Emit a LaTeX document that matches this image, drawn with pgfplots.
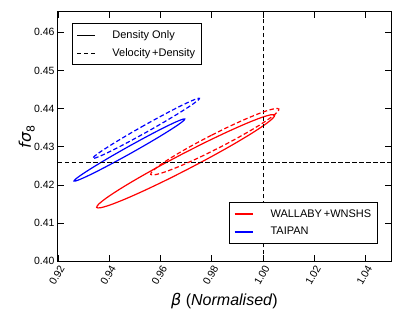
\documentclass[border=0pt]{standalone}
\usepackage{fontspec}
\setmainfont{Liberation Sans}
\newfontfamily\dejavu{DejaVu Sans}
\usepackage{pgfplots}
\pgfplotsset{compat=1.18}
\begin{document}
\begin{tikzpicture}
\pgfplotsset{
  mylegend/.style={
    legend cell align=left,
    legend style={draw=black, line width=0.8pt, fill=white,
      font=\fontsize{11}{13}\selectfont,
      inner xsep=4pt, inner ysep=5pt, row sep=4.2pt,
      nodes={inner sep=2pt},
      /tikz/every odd column/.append style={column sep=15pt}},
  },
}
\begin{axis}[
  scale only axis, width=333pt, height=249.3pt,
  xmin=0.92, xmax=1.05, ymin=0.40, ymax=0.4653,
  xtick={0.92,0.94,0.96,0.98,1.00,1.02,1.04},
  ytick={0.40,0.41,0.42,0.43,0.44,0.45,0.46},
  scaled ticks=false,
  tick align=inside, tick pos=both,
  major tick length=6pt, minor tick num=0,
  tick style={black, line width=0.6pt},
  axis line style={line width=1pt},
  /pgf/number format/fixed, /pgf/number format/fixed zerofill,
  /pgf/number format/precision=2, /pgf/number format/assume math mode=true,
  tick label style={font=\fontsize{10.5}{12}\selectfont},
  x tick label style={rotate=60, anchor=north east, inner sep=2pt},
  xlabel={{\dejavu\itshape β} (\textit{Normalised})},
  ylabel={{\dejavu\itshape f\kern0.3ptσ}{\dejavu\raisebox{-0.22em}{\fontsize{11}{11}\selectfont 8}}},
  label style={font=\fontsize{16}{18}\selectfont},
  xlabel style={at={(axis description cs:0.5,0)}, anchor=base, yshift=-44.4pt},
  ylabel style={at={(axis description cs:0,0.5)}, anchor=base, yshift=27pt},
  mylegend,
  legend image code/.code={\draw[#1, line width=2pt] (0pt,0pt) -- (18pt,0pt);},
  legend style={at={(axis description cs:0.960,0.0711)}, anchor=south east},
]
% red solid (density only)
\addplot[red, line width=1.2pt, smooth] coordinates {
(0.96841,0.42806) (0.95947,0.42487) (0.95123,0.42176) (0.94426,0.41896) (0.93904,0.41665) (0.93591,0.41499)
(0.93510,0.41410) (0.93666,0.41403) (0.94048,0.41479) (0.94630,0.41633) (0.95372,0.41854) (0.96225,0.42127)
(0.97129,0.42434) (0.98024,0.42754) (0.98847,0.43064) (0.99544,0.43344) (1.00067,0.43575) (1.00379,0.43741)
(1.00460,0.43830) (1.00304,0.43837) (0.99922,0.43761) (0.99340,0.43607) (0.98598,0.43386) (0.97745,0.43113)
(0.96841,0.42806)};
\addlegendentry{WALLABY\,+WNSHS}
% blue solid (density only)
\addplot[blue, line width=1.2pt, smooth] coordinates {
(0.94720,0.42994) (0.94163,0.42781) (0.93648,0.42577) (0.93211,0.42396) (0.92881,0.42251) (0.92681,0.42150)
(0.92625,0.42102) (0.92716,0.42109) (0.92948,0.42171) (0.93306,0.42283) (0.93764,0.42439) (0.94292,0.42627)
(0.94854,0.42834) (0.95411,0.43047) (0.95926,0.43251) (0.96363,0.43432) (0.96693,0.43577) (0.96893,0.43678)
(0.96949,0.43726) (0.96858,0.43719) (0.96626,0.43657) (0.96269,0.43545) (0.95810,0.43389) (0.95282,0.43201)
(0.94720,0.42994)};
\addlegendentry{TAIPAN}
% reference lines
\addplot[black, line width=0.8pt, dash pattern=on 4.5pt off 2.5pt, forget plot] coordinates {(0.92,0.4258) (1.05,0.4258)};
\addplot[black, line width=0.8pt, dash pattern=on 4.5pt off 2.5pt, forget plot] coordinates {(1.0,0.40) (1.0,0.4653)};
% red dashed (velocity + density)
\addplot[red, line width=1.2pt, dash pattern=on 4.5pt off 2.5pt, smooth, forget plot] coordinates {
(0.97991,0.43302) (0.97349,0.43075) (0.96759,0.42852) (0.96262,0.42648) (0.95891,0.42477) (0.95673,0.42350)
(0.95621,0.42277) (0.95740,0.42262) (0.96021,0.42307) (0.96445,0.42407) (0.96983,0.42557) (0.97599,0.42746)
(0.98251,0.42962) (0.98893,0.43189) (0.99483,0.43412) (0.99981,0.43616) (1.00351,0.43787) (1.00569,0.43914)
(1.00621,0.43987) (1.00502,0.44002) (1.00221,0.43958) (0.99797,0.43857) (0.99259,0.43707) (0.98643,0.43518)
(0.97991,0.43302)};
% blue dashed (velocity + density)
\addplot[blue, line width=1.2pt, dash pattern=on 4.5pt off 2.5pt, smooth, forget plot] coordinates {
(0.95371,0.43562) (0.94834,0.43356) (0.94338,0.43158) (0.93918,0.42983) (0.93601,0.42842) (0.93409,0.42744)
(0.93355,0.42697) (0.93443,0.42703) (0.93668,0.42762) (0.94013,0.42870) (0.94455,0.43020) (0.94964,0.43202)
(0.95505,0.43402) (0.96042,0.43608) (0.96538,0.43806) (0.96958,0.43981) (0.97275,0.44122) (0.97467,0.44220)
(0.97521,0.44268) (0.97433,0.44261) (0.97208,0.44202) (0.96864,0.44094) (0.96421,0.43944) (0.95912,0.43762)
(0.95371,0.43562)};
\end{axis}
\begin{axis}[
  scale only axis, width=333pt, height=249.3pt,
  xmin=0, xmax=1, ymin=0, ymax=1, hide axis,
  mylegend,
  legend image code/.code={\draw[#1, line width=0.7pt] (0pt,0pt) -- (18pt,0pt);},
  legend style={at={(axis description cs:0.043,0.9546)}, anchor=north west},
]
\addlegendimage{draw=black, solid}
\addlegendentry{Density Only}
\addlegendimage{draw=black, dash pattern=on 4pt off 3pt}
\addlegendentry{Velocity\,+Density}
\end{axis}
\path (current axis.south west) ++(-58pt,-50.7pt) coordinate (bbl);
\path (current axis.north east) ++(24pt,12pt) coordinate (btr);
\pgfresetboundingbox
\path (bbl) rectangle (btr);
\end{tikzpicture}
\end{document}
